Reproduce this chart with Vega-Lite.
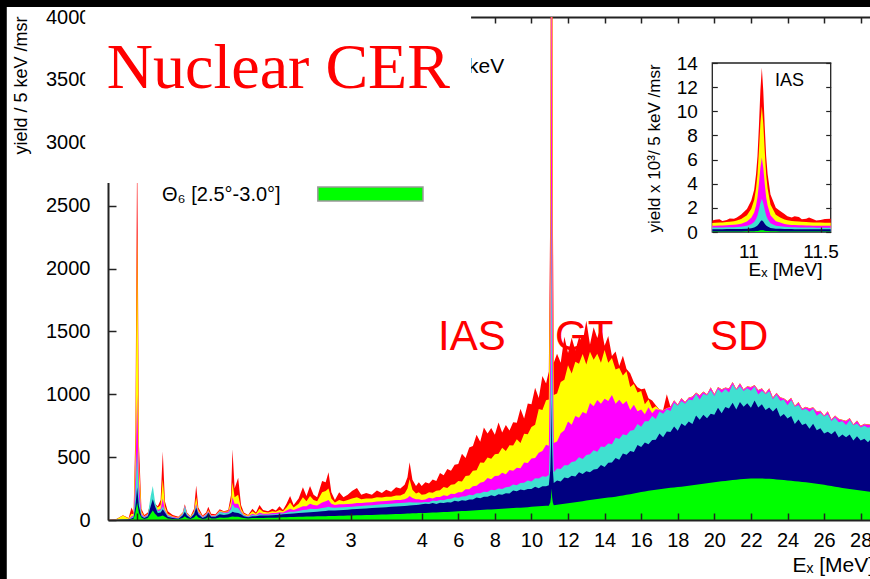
{
"$schema":"https://vega.github.io/schema/vega-lite/v6.json",
"width":762,"height":503,"autosize":"none",
"padding":{"left":108,"top":17,"right":0,"bottom":59},
"background":"white",
"config":{"view":{"stroke":null},"font":"Liberation Sans",
"axis":{"labelFont":"Liberation Sans","titleFont":"Liberation Sans","labelColor":"#000","titleColor":"#000","domainColor":"#222","tickColor":"#222","grid":false,"titleFontWeight":"normal","labelOverlap":false,"labelFlush":false},
"text":{"font":"Liberation Sans"}},
"layer":[
{"data":{"values":[
{"x":-0.41,"r":0,"y":0,"m":0,"c":0,"n":0,"g":0},
{"x":-0.3,"r":6,"y":4,"m":1,"c":1,"n":0,"g":0},
{"x":-0.2,"r":38,"y":35,"m":5,"c":3,"n":2,"g":1},
{"x":-0.12,"r":15,"y":12,"m":5,"c":4,"n":3,"g":2},
{"x":-0.08,"r":100,"y":50,"m":30,"c":20,"n":12,"g":6},
{"x":-0.05,"r":60,"y":45,"m":35,"c":28,"n":20,"g":10},
{"x":-0.025,"r":700,"y":550,"m":350,"c":200,"n":110,"g":60},
{"x":0,"r":3000,"y":2300,"m":1000,"c":550,"n":260,"g":140},
{"x":0.025,"r":600,"y":450,"m":300,"c":180,"n":110,"g":55},
{"x":0.06,"r":90,"y":70,"m":50,"c":40,"n":30,"g":20},
{"x":0.1,"r":40,"y":30,"m":25,"c":20,"n":15,"g":8},
{"x":0.15,"r":60,"y":50,"m":45,"c":40,"n":30,"g":15},
{"x":0.19,"r":140,"y":130,"m":125,"c":190,"n":110,"g":50},
{"x":0.22,"r":200,"y":190,"m":185,"c":270,"n":165,"g":75},
{"x":0.25,"r":130,"y":120,"m":115,"c":150,"n":110,"g":50},
{"x":0.29,"r":110,"y":100,"m":80,"c":70,"n":55,"g":25},
{"x":0.33,"r":160,"y":120,"m":90,"c":80,"n":60,"g":30},
{"x":0.36,"r":545,"y":325,"m":170,"c":110,"n":85,"g":35},
{"x":0.39,"r":150,"y":110,"m":80,"c":70,"n":60,"g":25},
{"x":0.43,"r":70,"y":50,"m":40,"c":35,"n":25,"g":12},
{"x":0.5,"r":40,"y":30,"m":25,"c":20,"n":15,"g":8},
{"x":0.58,"r":25,"y":20,"m":15,"c":12,"n":10,"g":6},
{"x":0.64,"r":60,"y":55,"m":50,"c":45,"n":35,"g":15},
{"x":0.67,"r":125,"y":120,"m":118,"c":110,"n":65,"g":30},
{"x":0.7,"r":60,"y":55,"m":50,"c":45,"n":35,"g":15},
{"x":0.75,"r":30,"y":25,"m":20,"c":18,"n":15,"g":8},
{"x":0.8,"r":90,"y":70,"m":60,"c":55,"n":45,"g":20},
{"x":0.83,"r":275,"y":180,"m":130,"c":115,"n":100,"g":40},
{"x":0.86,"r":100,"y":80,"m":65,"c":55,"n":45,"g":20},
{"x":0.92,"r":35,"y":30,"m":25,"c":20,"n":15,"g":8},
{"x":0.97,"r":60,"y":50,"m":45,"c":40,"n":30,"g":12},
{"x":1.0,"r":105,"y":80,"m":70,"c":62,"n":55,"g":25},
{"x":1.04,"r":50,"y":40,"m":35,"c":30,"n":25,"g":12},
{"x":1.1,"r":45,"y":40,"m":35,"c":30,"n":25,"g":12},
{"x":1.16,"r":85,"y":75,"m":70,"c":65,"n":45,"g":20},
{"x":1.22,"r":70,"y":65,"m":60,"c":55,"n":40,"g":18},
{"x":1.28,"r":80,"y":70,"m":65,"c":58,"n":45,"g":20},
{"x":1.32,"r":200,"y":150,"m":110,"c":85,"n":55,"g":25},
{"x":1.34,"r":563,"y":300,"m":180,"c":125,"n":65,"g":28},
{"x":1.37,"r":250,"y":180,"m":130,"c":100,"n":60,"g":25},
{"x":1.42,"r":335,"y":200,"m":130,"c":95,"n":55,"g":25},
{"x":1.46,"r":120,"y":90,"m":70,"c":60,"n":45,"g":20},
{"x":1.5,"r":60,"y":50,"m":40,"c":35,"n":30,"g":15},
{"x":1.56,"r":40,"y":35,"m":30,"c":25,"n":22,"g":12},
{"x":1.62,"r":90,"y":70,"m":50,"c":40,"n":30,"g":15},
{"x":1.67,"r":60,"y":50,"m":40,"c":35,"n":30,"g":15},
{"x":1.72,"r":120,"y":90,"m":60,"c":45,"n":35,"g":16},
{"x":1.77,"r":80,"y":65,"m":50,"c":42,"n":35,"g":16},
{"x":1.84,"r":70,"y":60,"m":50,"c":42,"n":35,"g":17},
{"x":1.9,"r":90,"y":70,"m":55,"c":45,"n":38,"g":18},
{"x":1.95,"r":75,"y":65,"m":55,"c":45,"n":40,"g":18},
{"x":2.0,"r":110,"y":80,"m":62,"c":50,"n":42,"g":20},
{"x":2.05,"r":80,"y":70,"m":60,"c":52,"n":45,"g":22},
{"x":2.1,"r":130,"y":100,"m":75,"c":58,"n":48,"g":22},
{"x":2.15,"r":190,"y":140,"m":90,"c":65,"n":50,"g":23},
{"x":2.2,"r":120,"y":100,"m":80,"c":65,"n":52,"g":24},
{"x":2.27,"r":170,"y":130,"m":95,"c":72,"n":55,"g":25},
{"x":2.33,"r":260,"y":180,"m":110,"c":80,"n":58,"g":26},
{"x":2.38,"r":190,"y":150,"m":110,"c":82,"n":60,"g":27},
{"x":2.43,"r":270,"y":190,"m":130,"c":90,"n":62,"g":28},
{"x":2.48,"r":200,"y":160,"m":120,"c":88,"n":64,"g":28},
{"x":2.53,"r":180,"y":150,"m":115,"c":88,"n":66,"g":29},
{"x":2.6,"r":310,"y":220,"m":140,"c":95,"n":70,"g":30},
{"x":2.65,"r":300,"y":230,"m":150,"c":100,"n":72,"g":30},
{"x":2.69,"r":380,"y":250,"m":160,"c":105,"n":75,"g":31},
{"x":2.73,"r":220,"y":170,"m":130,"c":100,"n":75,"g":31},
{"x":2.78,"r":160,"y":140,"m":120,"c":98,"n":76,"g":32},
{"x":2.84,"r":220,"y":160,"m":125,"c":100,"n":78,"g":33},
{"x":2.9,"r":180,"y":150,"m":125,"c":102,"n":80,"g":34},
{"x":2.96,"r":200,"y":160,"m":128,"c":104,"n":82,"g":35},
{"x":3.02,"r":230,"y":170,"m":130,"c":106,"n":85,"g":36},
{"x":3.09,"r":255,"y":180,"m":135,"c":110,"n":88,"g":37},
{"x":3.15,"r":200,"y":165,"m":135,"c":112,"n":90,"g":38},
{"x":3.22,"r":215,"y":170,"m":140,"c":115,"n":92,"g":39},
{"x":3.3,"r":200,"y":170,"m":142,"c":118,"n":95,"g":40},
{"x":3.37,"r":235,"y":180,"m":148,"c":122,"n":98,"g":42},
{"x":3.44,"r":215,"y":178,"m":150,"c":125,"n":100,"g":43},
{"x":3.5,"r":240,"y":185,"m":152,"c":128,"n":102,"g":44},
{"x":3.57,"r":225,"y":185,"m":155,"c":130,"n":105,"g":45},
{"x":3.64,"r":260,"y":195,"m":160,"c":133,"n":108,"g":47},
{"x":3.7,"r":250,"y":195,"m":160,"c":135,"n":110,"g":48},
{"x":3.76,"r":280,"y":210,"m":165,"c":138,"n":112,"g":50},
{"x":3.8,"r":340,"y":250,"m":175,"c":140,"n":114,"g":51},
{"x":3.83,"r":460,"y":325,"m":190,"c":142,"n":116,"g":52},
{"x":3.87,"r":320,"y":240,"m":175,"c":140,"n":118,"g":53},
{"x":3.92,"r":270,"y":210,"m":165,"c":140,"n":120,"g":54},
{"x":3.96,"r":300,"y":220,"m":165,"c":140,"n":122,"g":55},
{"x":4.0,"r":270,"y":200,"m":160,"c":140,"n":125,"g":55},
{"x":4.2,"r":300,"y":204,"m":163,"c":144,"n":129,"g":56},
{"x":4.4,"r":290,"y":221,"m":176,"c":142,"n":128,"g":57},
{"x":4.6,"r":323,"y":217,"m":170,"c":155,"n":135,"g":59},
{"x":4.8,"r":311,"y":233,"m":183,"c":151,"n":128,"g":60},
{"x":5.0,"r":373,"y":236,"m":183,"c":160,"n":138,"g":62},
{"x":5.2,"r":356,"y":263,"m":197,"c":158,"n":135,"g":63},
{"x":5.4,"r":405,"y":254,"m":190,"c":167,"n":142,"g":64},
{"x":5.6,"r":391,"y":281,"m":209,"c":168,"n":140,"g":66},
{"x":5.8,"r":440,"y":285,"m":207,"c":180,"n":153,"g":68},
{"x":6.0,"r":446,"y":311,"m":220,"c":176,"n":148,"g":70},
{"x":6.2,"r":526,"y":307,"m":220,"c":187,"n":157,"g":71},
{"x":6.4,"r":493,"y":350,"m":245,"c":188,"n":154,"g":72},
{"x":6.6,"r":577,"y":353,"m":244,"c":201,"n":163,"g":74},
{"x":6.8,"r":588,"y":391,"m":269,"c":196,"n":164,"g":76},
{"x":7.0,"r":678,"y":395,"m":273,"c":212,"n":178,"g":78},
{"x":7.2,"r":623,"y":458,"m":296,"c":212,"n":172,"g":80},
{"x":7.4,"r":735,"y":456,"m":305,"c":224,"n":185,"g":81},
{"x":7.6,"r":688,"y":498,"m":334,"c":223,"n":185,"g":83},
{"x":7.8,"r":732,"y":488,"m":324,"c":241,"n":197,"g":84},
{"x":8.0,"r":677,"y":523,"m":350,"c":237,"n":188,"g":86},
{"x":8.2,"r":775,"y":526,"m":351,"c":250,"n":205,"g":88},
{"x":8.4,"r":695,"y":575,"m":376,"c":247,"n":201,"g":89},
{"x":8.6,"r":756,"y":548,"m":363,"c":260,"n":213,"g":91},
{"x":8.8,"r":711,"y":595,"m":398,"c":264,"n":211,"g":93},
{"x":9.0,"r":778,"y":593,"m":392,"c":283,"n":234,"g":95},
{"x":9.2,"r":774,"y":642,"m":416,"c":276,"n":228,"g":97},
{"x":9.4,"r":884,"y":613,"m":411,"c":294,"n":242,"g":98},
{"x":9.6,"r":808,"y":686,"m":458,"c":297,"n":236,"g":100},
{"x":9.8,"r":927,"y":681,"m":453,"c":314,"n":247,"g":102},
{"x":10.0,"r":921,"y":739,"m":490,"c":306,"n":246,"g":105},
{"x":10.2,"r":1052,"y":758,"m":493,"c":332,"n":264,"g":107},
{"x":10.4,"r":971,"y":882,"m":535,"c":330,"n":252,"g":109},
{"x":10.6,"r":1145,"y":874,"m":548,"c":347,"n":269,"g":111},
{"x":10.8,"r":1085,"y":952,"m":599,"c":343,"n":269,"g":113},
{"x":10.95,"r":1180,"y":958,"m":590,"c":358,"n":276,"g":114},
{"x":11.03,"r":2500,"y":2000,"m":1300,"c":700,"n":400,"g":140},
{"x":11.07,"r":6000,"y":4700,"m":2800,"c":1300,"n":600,"g":180},
{"x":11.1,"r":13500,"y":10300,"m":6000,"c":2700,"n":950,"g":250},
{"x":11.13,"r":6000,"y":4700,"m":2800,"c":1300,"n":600,"g":180},
{"x":11.17,"r":2500,"y":2000,"m":1300,"c":700,"n":400,"g":140},
{"x":11.22,"r":1250,"y":995,"m":612,"c":380,"n":294,"g":118},
{"x":11.4,"r":1323,"y":1006,"m":624,"c":410,"n":315,"g":122},
{"x":11.6,"r":1250,"y":1097,"m":690,"c":405,"n":307,"g":125},
{"x":11.8,"r":1458,"y":1115,"m":713,"c":435,"n":337,"g":129},
{"x":12.0,"r":1329,"y":1230,"m":783,"c":436,"n":333,"g":133},
{"x":12.2,"r":1450,"y":1165,"m":757,"c":461,"n":351,"g":137},
{"x":12.4,"r":1347,"y":1258,"m":828,"c":467,"n":345,"g":141},
{"x":12.6,"r":1454,"y":1243,"m":813,"c":500,"n":379,"g":145},
{"x":12.8,"r":1416,"y":1320,"m":859,"c":486,"n":366,"g":150},
{"x":13.0,"r":1584,"y":1236,"m":844,"c":516,"n":388,"g":155},
{"x":13.2,"r":1395,"y":1337,"m":930,"c":522,"n":380,"g":159},
{"x":13.4,"r":1533,"y":1275,"m":904,"c":555,"n":402,"g":163},
{"x":13.6,"r":1448,"y":1322,"m":955,"c":542,"n":405,"g":167},
{"x":13.8,"r":1541,"y":1251,"m":924,"c":585,"n":438,"g":171},
{"x":14.0,"r":1385,"y":1352,"m":965,"c":581,"n":422,"g":175},
{"x":14.2,"r":1464,"y":1251,"m":946,"c":609,"n":456,"g":178},
{"x":14.4,"r":1304,"y":1288,"m":994,"c":603,"n":458,"g":181},
{"x":14.6,"r":1340,"y":1197,"m":925,"c":654,"n":493,"g":185},
{"x":14.8,"r":1225,"y":1209,"m":956,"c":644,"n":480,"g":190},
{"x":15.0,"r":1307,"y":1149,"m":921,"c":681,"n":528,"g":195},
{"x":15.2,"r":1200,"y":1182,"m":946,"c":674,"n":518,"g":200},
{"x":15.4,"r":1167,"y":1058,"m":874,"c":709,"n":548,"g":205},
{"x":15.6,"r":1095,"y":1081,"m":916,"c":715,"n":541,"g":211},
{"x":15.8,"r":1056,"y":1014,"m":864,"c":763,"n":597,"g":216},
{"x":16.0,"r":1040,"y":1026,"m":879,"c":742,"n":581,"g":222},
{"x":16.2,"r":1045,"y":920,"m":840,"c":785,"n":616,"g":227},
{"x":16.4,"r":968,"y":958,"m":896,"c":786,"n":603,"g":232},
{"x":16.6,"r":950,"y":886,"m":849,"c":828,"n":636,"g":237},
{"x":16.8,"r":912,"y":905,"m":883,"c":804,"n":639,"g":241},
{"x":17.0,"r":878,"y":876,"m":874,"c":862,"n":688,"g":245},
{"x":17.2,"r":874,"y":872,"m":870,"c":845,"n":659,"g":249},
{"x":17.4,"r":1000,"y":890,"m":888,"c":880,"n":703,"g":253},
{"x":17.6,"r":901,"y":899,"m":897,"c":867,"n":700,"g":256},
{"x":17.8,"r":952,"y":950,"m":948,"c":933,"n":743,"g":259},
{"x":18.0,"r":918,"y":916,"m":914,"c":909,"n":709,"g":262},
{"x":18.2,"r":971,"y":969,"m":967,"c":947,"n":768,"g":265},
{"x":18.4,"r":939,"y":937,"m":935,"c":925,"n":748,"g":268},
{"x":18.6,"r":975,"y":973,"m":971,"c":959,"n":784,"g":272},
{"x":18.8,"r":982,"y":980,"m":978,"c":953,"n":764,"g":276},
{"x":19.0,"r":1014,"y":1012,"m":1010,"c":1002,"n":832,"g":280},
{"x":19.2,"r":993,"y":991,"m":989,"c":959,"n":798,"g":284},
{"x":19.4,"r":1022,"y":1020,"m":1018,"c":1003,"n":836,"g":288},
{"x":19.6,"r":1000,"y":998,"m":996,"c":991,"n":809,"g":292},
{"x":19.8,"r":1055,"y":1053,"m":1051,"c":1031,"n":844,"g":296},
{"x":20.0,"r":1001,"y":999,"m":997,"c":987,"n":837,"g":300},
{"x":20.2,"r":1057,"y":1055,"m":1053,"c":1041,"n":892,"g":304},
{"x":20.4,"r":1040,"y":1038,"m":1036,"c":1011,"n":848,"g":308},
{"x":20.6,"r":1053,"y":1051,"m":1049,"c":1041,"n":898,"g":311},
{"x":20.8,"r":1048,"y":1046,"m":1044,"c":1014,"n":886,"g":315},
{"x":21.0,"r":1097,"y":1095,"m":1093,"c":1078,"n":932,"g":318},
{"x":21.2,"r":1042,"y":1040,"m":1038,"c":1033,"n":878,"g":321},
{"x":21.4,"r":1088,"y":1086,"m":1084,"c":1064,"n":938,"g":324},
{"x":21.6,"r":1040,"y":1038,"m":1036,"c":1026,"n":900,"g":326},
{"x":21.8,"r":1064,"y":1062,"m":1060,"c":1048,"n":928,"g":328},
{"x":22.0,"r":1057,"y":1055,"m":1053,"c":1028,"n":892,"g":330},
{"x":22.2,"r":1073,"y":1071,"m":1069,"c":1061,"n":951,"g":330},
{"x":22.4,"r":1033,"y":1031,"m":1029,"c":999,"n":894,"g":330},
{"x":22.6,"r":1047,"y":1045,"m":1043,"c":1028,"n":920,"g":330},
{"x":22.8,"r":1009,"y":1007,"m":1005,"c":1000,"n":874,"g":329},
{"x":23.0,"r":1048,"y":1046,"m":1044,"c":1024,"n":894,"g":328},
{"x":23.2,"r":974,"y":972,"m":970,"c":960,"n":863,"g":326},
{"x":23.4,"r":1012,"y":1010,"m":1008,"c":996,"n":892,"g":323},
{"x":23.6,"r":977,"y":975,"m":973,"c":948,"n":822,"g":321},
{"x":23.8,"r":969,"y":967,"m":965,"c":957,"n":843,"g":318},
{"x":24.0,"r":947,"y":945,"m":943,"c":913,"n":807,"g":315},
{"x":24.2,"r":972,"y":970,"m":968,"c":953,"n":827,"g":312},
{"x":24.4,"r":909,"y":907,"m":905,"c":900,"n":763,"g":309},
{"x":24.6,"r":938,"y":936,"m":934,"c":914,"n":800,"g":306},
{"x":24.8,"r":886,"y":884,"m":882,"c":872,"n":755,"g":303},
{"x":25.0,"r":900,"y":898,"m":896,"c":884,"n":768,"g":300},
{"x":25.2,"r":889,"y":887,"m":885,"c":860,"n":726,"g":296},
{"x":25.4,"r":896,"y":894,"m":892,"c":884,"n":765,"g":292},
{"x":25.6,"r":864,"y":862,"m":860,"c":830,"n":714,"g":288},
{"x":25.8,"r":869,"y":867,"m":865,"c":850,"n":729,"g":284},
{"x":26.0,"r":832,"y":830,"m":828,"c":823,"n":687,"g":280},
{"x":26.2,"r":864,"y":862,"m":860,"c":840,"n":701,"g":275},
{"x":26.4,"r":801,"y":799,"m":797,"c":787,"n":681,"g":270},
{"x":26.6,"r":832,"y":830,"m":828,"c":816,"n":708,"g":265},
{"x":26.8,"r":806,"y":804,"m":802,"c":777,"n":657,"g":260},
{"x":27.0,"r":798,"y":796,"m":794,"c":786,"n":680,"g":255},
{"x":27.2,"r":789,"y":787,"m":785,"c":755,"n":658,"g":251},
{"x":27.4,"r":812,"y":810,"m":808,"c":793,"n":680,"g":247},
{"x":27.6,"r":762,"y":760,"m":758,"c":753,"n":632,"g":243},
{"x":27.8,"r":792,"y":790,"m":788,"c":768,"n":666,"g":239},
{"x":28.0,"r":749,"y":747,"m":745,"c":735,"n":632,"g":235},
{"x":28.2,"r":765,"y":763,"m":761,"c":749,"n":647,"g":231},
{"x":28.4,"r":762,"y":760,"m":758,"c":733,"n":619,"g":227},
{"x":28.51,"r":759,"y":757,"m":755,"c":740,"n":636,"g":225}
]},
"layer":[
{"mark":{"type":"area","color":"#ff0000","clip":true},"encoding":{
 "x":{"field":"x","type":"quantitative",
  "scale":{"type":"linear","domain":[-0.41,4,28.51],"range":[0,313.7,762],"nice":false,"zero":false},
  "axis":{"orient":"bottom","values":[0,1,2,3,4,6,8,10,12,14,16,18,20,22,24,26,28],"format":"d","tickSize":-7,"tickWidth":1.5,"labelPadding":17,"labelFontSize":20,"domainWidth":2,"zindex":1,
   "title":"Eₓ [MeV]","titleFontSize":21,"titleX":684,"titleY":51,"titleAlign":"left","titleBaseline":"alphabetic","titleAnchor":null}},
 "y":{"field":"r","type":"quantitative",
  "scale":{"domain":[0,4000],"nice":false,"zero":false},
  "axis":{"orient":"left","values":[0,500,1000,1500,2000,2500,3000,3500,4000],"format":"d","tickSize":-8,"tickWidth":1.5,"labelPadding":26,"labelFontSize":20,"domainWidth":2,"zindex":0,
   "title":"yield / 5 keV /msr","titleFontSize":18,"titleX":-87,"titleY":68,"titleAngle":-90,"titleAlign":"center","titleBaseline":"middle"}}}},
{"mark":{"type":"area","color":"#ffff00","clip":true},"encoding":{"x":{"field":"x","type":"quantitative"},"y":{"field":"y","type":"quantitative"}}},
{"mark":{"type":"area","color":"#ff00ff","clip":true},"encoding":{"x":{"field":"x","type":"quantitative"},"y":{"field":"m","type":"quantitative"}}},
{"mark":{"type":"area","color":"#40e0d0","clip":true},"encoding":{"x":{"field":"x","type":"quantitative"},"y":{"field":"c","type":"quantitative"}}},
{"mark":{"type":"area","color":"#000080","clip":true},"encoding":{"x":{"field":"x","type":"quantitative"},"y":{"field":"n","type":"quantitative"}}},
{"mark":{"type":"area","color":"#00ff00","clip":true},"encoding":{"x":{"field":"x","type":"quantitative"},"y":{"field":"g","type":"quantitative"}}},
{"data":{"values":[{"t":"IAS"}]},"mark":{"type":"text","fontSize":42,"color":"#ff0000","align":"left","baseline":"alphabetic"},"encoding":{"text":{"field":"t"},"x":{"datum":4.89,"type":"quantitative"},"y":{"datum":1352,"type":"quantitative"}}},
{"data":{"values":[{"t":"GT"}]},"mark":{"type":"text","fontSize":42,"color":"#ff0000","align":"left","baseline":"alphabetic"},"encoding":{"text":{"field":"t"},"x":{"datum":11.29,"type":"quantitative"},"y":{"datum":1352,"type":"quantitative"}}},
{"data":{"values":[{"t":"SD"}]},"mark":{"type":"text","fontSize":42,"color":"#ff0000","align":"left","baseline":"alphabetic"},"encoding":{"text":{"field":"t"},"x":{"datum":19.76,"type":"quantitative"},"y":{"datum":1352,"type":"quantitative"}}},
{"data":{"values":[{"t":"keV"}]},"mark":{"type":"text","fontSize":21,"color":"#000","align":"left","baseline":"alphabetic"},"encoding":{"text":{"field":"t"},"x":{"datum":6.53,"type":"quantitative"},"y":{"datum":3555,"type":"quantitative"}}},
{"data":{"values":[{"k":"cover"}]},"mark":{"type":"rect","color":"white"},"encoding":{"x":{"datum":-0.73,"type":"quantitative"},"x2":{"datum":6.7},"y":{"datum":2680,"type":"quantitative"},"y2":{"datum":4600}}},
{"data":{"values":[{"t":"Nuclear CER"}]},"mark":{"type":"text","font":"Liberation Serif","fontSize":64,"color":"#ff0000","align":"left","baseline":"alphabetic"},"encoding":{"text":{"field":"t"},"x":{"datum":-0.426,"type":"quantitative"},"y":{"datum":3435,"type":"quantitative"}}},
{"data":{"values":[{"t":"Θ₆ [2.5°-3.0°]"}]},"mark":{"type":"text","fontSize":20,"color":"#000","align":"left","baseline":"middle"},"encoding":{"text":{"field":"t"},"x":{"datum":0.35,"type":"quantitative"},"y":{"datum":2584,"type":"quantitative"}}},
{"data":{"values":[{"k":"swatch"}]},"mark":{"type":"rect","fill":"#00ff00","stroke":"#999999","strokeWidth":1.5},"encoding":{"x":{"datum":2.54,"type":"quantitative"},"x2":{"datum":4.07},"y":{"datum":2537,"type":"quantitative"},"y2":{"datum":2648}}},
{"data":{"values":[{"k":"edge left"}]},"mark":{"type":"rect","color":"black"},"encoding":{"x":{"datum":-3,"type":"quantitative"},"x2":{"datum":-1.833},"y":{"datum":-600,"type":"quantitative"},"y2":{"datum":4600}}},
{"data":{"values":[{"k":"edge top"}]},"mark":{"type":"rect","color":"black"},"encoding":{"x":{"datum":-3,"type":"quantitative"},"x2":{"datum":40},"y":{"datum":4079.5,"type":"quantitative"},"y2":{"datum":4600}}}
]},
{"data":{"values":[
{"x":10.75,"r":0.95,"y":0.74,"m":0.52,"c":0.37,"n":0.23,"g":0.05},
{"x":10.77,"r":1.02,"y":0.76,"m":0.52,"c":0.37,"n":0.23,"g":0.05},
{"x":10.8,"r":1.05,"y":0.78,"m":0.53,"c":0.37,"n":0.23,"g":0.05},
{"x":10.82,"r":0.92,"y":0.79,"m":0.54,"c":0.38,"n":0.23,"g":0.05},
{"x":10.85,"r":1.0,"y":0.82,"m":0.56,"c":0.39,"n":0.24,"g":0.05},
{"x":10.87,"r":1.12,"y":0.85,"m":0.57,"c":0.39,"n":0.24,"g":0.05},
{"x":10.9,"r":1.1,"y":0.9,"m":0.6,"c":0.4,"n":0.24,"g":0.05},
{"x":10.92,"r":1.2,"y":0.95,"m":0.63,"c":0.41,"n":0.24,"g":0.05},
{"x":10.95,"r":1.45,"y":1.08,"m":0.69,"c":0.44,"n":0.25,"g":0.05},
{"x":10.99,"r":1.9,"y":1.38,"m":0.87,"c":0.51,"n":0.27,"g":0.06},
{"x":11.02,"r":2.6,"y":1.93,"m":1.19,"c":0.65,"n":0.31,"g":0.06},
{"x":11.04,"r":3.5,"y":2.66,"m":1.62,"c":0.83,"n":0.37,"g":0.07},
{"x":11.053,"r":4.8,"y":3.63,"m":2.19,"c":1.07,"n":0.45,"g":0.08},
{"x":11.063,"r":6.3,"y":4.79,"m":2.87,"c":1.36,"n":0.54,"g":0.09},
{"x":11.073,"r":8.8,"y":6.73,"m":4.01,"c":1.84,"n":0.69,"g":0.11},
{"x":11.083,"r":11.7,"y":8.97,"m":5.33,"c":2.39,"n":0.86,"g":0.14},
{"x":11.093,"r":13.6,"y":10.42,"m":6.18,"c":2.75,"n":0.97,"g":0.15},
{"x":11.103,"r":11.7,"y":8.97,"m":5.33,"c":2.39,"n":0.86,"g":0.14},
{"x":11.113,"r":8.8,"y":6.73,"m":4.01,"c":1.84,"n":0.69,"g":0.11},
{"x":11.123,"r":6.3,"y":4.79,"m":2.87,"c":1.36,"n":0.54,"g":0.09},
{"x":11.133,"r":4.8,"y":3.63,"m":2.19,"c":1.07,"n":0.45,"g":0.08},
{"x":11.153,"r":3.1,"y":2.27,"m":1.39,"c":0.73,"n":0.34,"g":0.07},
{"x":11.19,"r":2.0,"y":1.42,"m":0.89,"c":0.52,"n":0.27,"g":0.06},
{"x":11.22,"r":1.75,"y":1.2,"m":0.78,"c":0.47,"n":0.26,"g":0.05},
{"x":11.25,"r":1.5,"y":1.04,"m":0.67,"c":0.43,"n":0.24,"g":0.05},
{"x":11.27,"r":1.3,"y":0.98,"m":0.63,"c":0.42,"n":0.24,"g":0.05},
{"x":11.3,"r":1.2,"y":0.91,"m":0.59,"c":0.4,"n":0.24,"g":0.05},
{"x":11.32,"r":1.3,"y":0.89,"m":0.58,"c":0.39,"n":0.23,"g":0.05},
{"x":11.35,"r":1.25,"y":0.86,"m":0.56,"c":0.38,"n":0.23,"g":0.05},
{"x":11.37,"r":1.05,"y":0.84,"m":0.55,"c":0.38,"n":0.23,"g":0.05},
{"x":11.4,"r":1.1,"y":0.82,"m":0.54,"c":0.37,"n":0.23,"g":0.05},
{"x":11.42,"r":1.2,"y":0.81,"m":0.53,"c":0.37,"n":0.23,"g":0.05},
{"x":11.45,"r":1.05,"y":0.79,"m":0.52,"c":0.37,"n":0.23,"g":0.05},
{"x":11.47,"r":0.95,"y":0.78,"m":0.52,"c":0.36,"n":0.22,"g":0.05},
{"x":11.5,"r":1.0,"y":0.78,"m":0.51,"c":0.36,"n":0.22,"g":0.05},
{"x":11.53,"r":1.08,"y":0.77,"m":0.51,"c":0.36,"n":0.22,"g":0.05},
{"x":11.57,"r":1.1,"y":0.77,"m":0.51,"c":0.36,"n":0.22,"g":0.05}
]},
"layer":[
{"data":{"values":[{"k":"frame"}]},"mark":{"type":"rect","fill":"white","stroke":"#222","strokeWidth":1.3},"encoding":{
 "x":{"datum":10.75,"type":"quantitative",
  "scale":{"domain":[10.75,11.57],"range":[604.3,722.7],"nice":false,"zero":false},
  "axis":{"orient":"bottom","offset":-288,"values":[11,11.5],"format":"~f","tickSize":-5,"tickWidth":1.2,"labelPadding":15,"labelFontSize":19,"domain":false,"zindex":1,
   "title":"Eₓ [MeV]","titleFontSize":19,"titleX":677,"titleY":37,"titleAlign":"center","titleBaseline":"middle","titleAnchor":null}},
 "x2":{"datum":11.57},
 "y":{"datum":0,"type":"quantitative",
  "scale":{"domain":[0,14],"range":[215,46],"nice":false,"zero":false},
  "axis":{"orient":"left","offset":-604.3,"values":[0,2,4,6,8,10,12,14],"format":"d","tickSize":-5,"tickWidth":1.2,"labelPadding":20,"labelFontSize":19,"domain":false,"zindex":1,
   "title":"yield x 10³/ 5 keV /msr","titleFontSize":17,"titleX":-58,"titleY":131,"titleAngle":-90,"titleAlign":"center","titleBaseline":"middle"}},
 "y2":{"datum":14}}},
{"mark":{"type":"area","color":"#ff0000"},"encoding":{"x":{"field":"x","type":"quantitative"},"y":{"field":"r","type":"quantitative"}}},
{"mark":{"type":"area","color":"#ffff00"},"encoding":{"x":{"field":"x","type":"quantitative"},"y":{"field":"y","type":"quantitative"}}},
{"mark":{"type":"area","color":"#ff00ff"},"encoding":{"x":{"field":"x","type":"quantitative"},"y":{"field":"m","type":"quantitative"}}},
{"mark":{"type":"area","color":"#40e0d0"},"encoding":{"x":{"field":"x","type":"quantitative"},"y":{"field":"c","type":"quantitative"}}},
{"mark":{"type":"area","color":"#000080"},"encoding":{"x":{"field":"x","type":"quantitative"},"y":{"field":"n","type":"quantitative"}}},
{"mark":{"type":"area","color":"#00ff00"},"encoding":{"x":{"field":"x","type":"quantitative"},"y":{"field":"g","type":"quantitative"}}},
{"data":{"values":[{"t":"IAS"}]},"mark":{"type":"text","fontSize":18,"color":"#000","align":"left","baseline":"alphabetic"},"encoding":{"text":{"field":"t"},"x":{"datum":11.184,"type":"quantitative"},"y":{"datum":12.1,"type":"quantitative"}}}
]},
{"data":{"values":[{"k":"mirror axes"}]},"mark":{"type":"point","opacity":0},
 "encoding":{
 "x":{"datum":10,"type":"quantitative","scale":{"type":"linear","domain":[-0.41,4,28.51],"range":[0,313.7,762],"nice":false,"zero":false},
  "axis":{"orient":"top","values":[0,1,2,3,4,6,8,10,12,14,16,18,20,22,24,26,28],"labels":false,"tickSize":-6,"tickWidth":1.5,"domainWidth":2,"zindex":0,"title":null}},
 "y":{"datum":5,"type":"quantitative","scale":{"domain":[0,14],"range":[215,46],"nice":false,"zero":false},
  "axis":{"orient":"right","offset":-39.3,"values":[0,2,4,6,8,10,12,14],"labels":false,"tickSize":-5,"tickWidth":1.2,"domain":false,"zindex":1,"title":null}}}}
],
"resolve":{"scale":{"x":"independent","y":"independent"},"axis":{"x":"independent","y":"independent"}}
}
